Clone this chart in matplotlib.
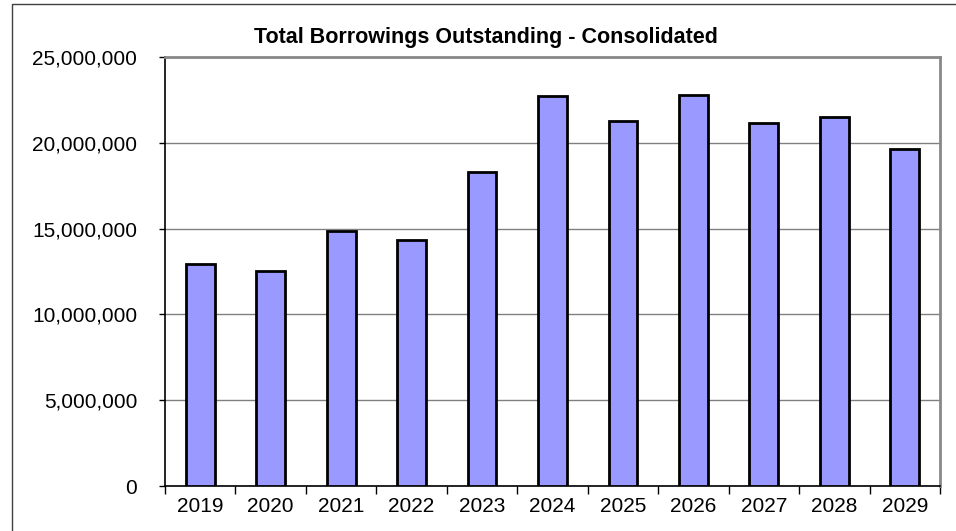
import matplotlib
matplotlib.use("Agg")
import matplotlib.pyplot as plt
from matplotlib.patches import Rectangle
from matplotlib.ticker import FuncFormatter, FixedLocator
import numpy as np

years = ["2019", "2020", "2021", "2022", "2023", "2024",
         "2025", "2026", "2027", "2028", "2029"]
borrowings = [12920000, 12530000, 14860000, 14320000, 18300000, 22730000,
              21250000, 22790000, 21170000, 21500000, 19660000]
y_ticks = [0, 5000000, 10000000, 15000000, 20000000, 25000000]

plt.rcParams["font.family"] = ["Liberation Sans", "DejaVu Sans"]

fig = plt.figure(figsize=(9.56, 5.31), dpi=100)
ax = fig.add_axes([165 / 956, 45 / 531, 775 / 956, 429 / 531])

x = np.arange(len(years))
ax.bar(x, borrowings, width=0.41, color="#9999FF", edgecolor="black",
       linewidth=2.0, zorder=3)

ax.set_xlim(-0.5, len(years) - 0.5)
ax.set_ylim(0, 25000000)

# y axis: comma formatted values, grey horizontal grid
ax.yaxis.set_major_locator(FixedLocator(y_ticks))
ax.yaxis.set_major_formatter(FuncFormatter(lambda v, p: f"{int(v):,}"))
ax.yaxis.grid(True, color="#808080", linewidth=1.0, zorder=0)
ax.tick_params(axis="y", direction="out", length=4, width=1.0,
               labelsize=15, pad=16, color="black")

# x axis: labels centred on bars, ticks between categories
ax.set_xticks(x)
ax.set_xticklabels(years)
ax.set_xticks(np.arange(-0.5, len(years)), minor=True)
ax.tick_params(axis="x", which="major", length=0, labelsize=15, pad=8)
ax.tick_params(axis="x", which="minor", direction="out", length=6,
               width=1.0, color="black")

for side in ("left", "bottom"):
    ax.spines[side].set_color("black")
    ax.spines[side].set_linewidth(1.2)
for side in ("top", "right"):
    ax.spines[side].set_color("#888888")
    ax.spines[side].set_linewidth(2.0)

fig.text(486 / 956, 1 - 43 / 531, "Total Borrowings Outstanding - Consolidated",
         ha="center", va="baseline", fontsize=15.5, fontweight="bold")

# chart frame
fig.patches.append(Rectangle((12 / 956, -0.1), 1.2, 1 - 4 / 531 + 0.1,
                             transform=fig.transFigure, fill=False,
                             edgecolor="#404040", linewidth=1.0))

fig.savefig("out.png", dpi=100)
